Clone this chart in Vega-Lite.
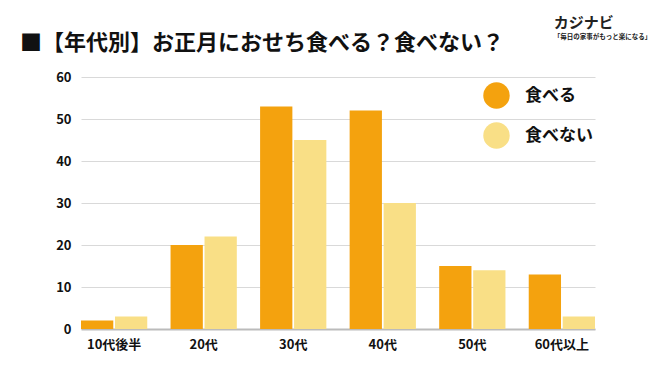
{
  "$schema": "https://vega.github.io/schema/vega-lite/v6.json",
  "autosize": "none",
  "width": 514,
  "height": 252,
  "padding": {"left": 81, "top": 77, "right": 55, "bottom": 37},
  "background": "white",
  "config": {
    "font": "Noto Sans CJK JP",
    "view": {"stroke": null}
  },
  "title": {
    "text": "■【年代別】お正月におせち食べる？食べない？",
    "fontSize": 22,
    "fontWeight": "bold",
    "color": "#111111",
    "anchor": "start",
    "frame": "group",
    "dx": -61,
    "baseline": "bottom",
    "offset": 0,
    "dy": 61
  },
  "datasets": {
    "bars": [
      {"年代": "10代後半", "回答": "食べる", "人数": 2},
      {"年代": "10代後半", "回答": "食べない", "人数": 3},
      {"年代": "20代", "回答": "食べる", "人数": 20},
      {"年代": "20代", "回答": "食べない", "人数": 22},
      {"年代": "30代", "回答": "食べる", "人数": 53},
      {"年代": "30代", "回答": "食べない", "人数": 45},
      {"年代": "40代", "回答": "食べる", "人数": 52},
      {"年代": "40代", "回答": "食べない", "人数": 30},
      {"年代": "50代", "回答": "食べる", "人数": 15},
      {"年代": "50代", "回答": "食べない", "人数": 14},
      {"年代": "60代以上", "回答": "食べる", "人数": 13},
      {"年代": "60代以上", "回答": "食べない", "人数": 3}
    ],
    "logo": [
      {"text": "カジナビ", "y": 72.8, "size": 15, "style": "italic"},
      {"text": "「毎日の家事がもっと楽になる」", "y": 69.6, "size": 6.5, "style": "normal"}
    ]
  },
  "layer": [
    {
      "data": {"name": "bars"},
      "mark": {"type": "bar"},
      "encoding": {
        "x": {
          "field": "年代",
          "type": "nominal",
          "sort": ["10代後半", "20代", "30代", "40代", "50代", "60代以上"],
          "scale": {"paddingInner": 0.26, "paddingOuter": 0},
          "axis": {
            "title": null,
            "labelAngle": 0,
            "labelFontSize": 13,
            "labelFontWeight": "bold",
            "labelColor": "#111111",
            "labelPadding": 9,
            "ticks": false,
            "domainColor": "#bbbbbb",
            "domainWidth": 2
          }
        },
        "xOffset": {
          "field": "回答",
          "type": "nominal",
          "sort": ["食べる", "食べない"],
          "scale": {"paddingInner": 0.05}
        },
        "y": {
          "field": "人数",
          "type": "quantitative",
          "scale": {"domain": [0, 60]},
          "axis": {
            "title": null,
            "values": [0, 10, 20, 30, 40, 50, 60],
            "labelFontSize": 13,
            "labelFontWeight": "bold",
            "labelColor": "#111111",
            "labelPadding": 10,
            "ticks": false,
            "domain": false,
            "gridColor": "#d9d9d9",
            "gridWidth": 1
          }
        },
        "color": {
          "field": "回答",
          "type": "nominal",
          "sort": ["食べる", "食べない"],
          "scale": {"domain": ["食べる", "食べない"], "range": ["#F4A20E", "#F9DF86"]},
          "legend": {
            "title": null,
            "orient": "none",
            "legendX": 402,
            "legendY": 5,
            "symbolType": "circle",
            "symbolSize": 700,
            "symbolStrokeWidth": 0,
            "symbolOpacity": 1,
            "labelFontSize": 17,
            "labelFontWeight": "bold",
            "labelColor": "#111111",
            "labelOffset": 15,
            "rowPadding": 13
          }
        }
      }
    },
    {
      "data": {"name": "logo"},
      "mark": {"type": "text", "align": "left", "baseline": "middle", "fontWeight": "bold", "color": "#222222", "clip": false, "dx": -8},
      "encoding": {
        "x": {"datum": "60代以上"},
        "y": {"field": "y", "type": "quantitative"},
        "text": {"field": "text"},
        "size": {"field": "size", "type": "quantitative", "scale": null, "legend": null},
        "fontStyle": {"field": "style"}
      }
    }
  ]
}
